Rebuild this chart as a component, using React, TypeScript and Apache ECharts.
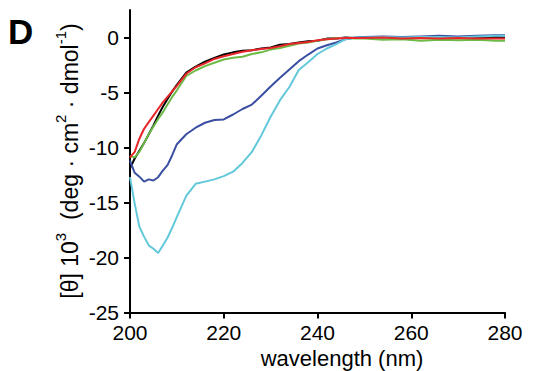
import React, { useEffect, useRef } from "react";
import * as echarts from "echarts";

const wavelengths = [200, 201, 202, 203, 204, 205, 206, 207, 208, 209, 210, 212, 214, 216, 218, 220, 222, 224, 226, 228, 230, 232, 234, 236, 238, 240, 242, 244, 246, 248, 250, 254, 258, 262, 266, 270, 274, 278, 280];

const blackSeries = [-11.9, -11.0, -10.3, -9.6, -8.8, -8.0, -7.1, -6.3, -5.6, -4.9, -4.3, -3.2, -2.65, -2.2, -1.85, -1.55, -1.35, -1.2, -1.15, -1.0, -0.9, -0.65, -0.6, -0.45, -0.35, -0.3, -0.1, -0.1, 0.0, -0.05, 0.0, 0.05, -0.05, 0.0, 0.05, 0.0, 0.0, 0.05, 0.0];
const redSeries = [-10.9, -10.4, -9.2, -8.3, -7.7, -7.1, -6.5, -5.9, -5.4, -4.9, -4.4, -3.3, -2.7, -2.35, -1.95, -1.7, -1.5, -1.3, -1.15, -1.05, -0.95, -0.8, -0.6, -0.5, -0.4, -0.25, -0.15, -0.1, -0.05, -0.05, -0.05, 0.0, -0.1, -0.05, -0.1, -0.05, -0.1, -0.1, -0.1];
const greenSeries = [-10.8, -10.9, -10.4, -9.6, -8.8, -8.1, -7.4, -6.8, -6.1, -5.4, -4.8, -3.5, -3.0, -2.6, -2.3, -2.0, -1.85, -1.75, -1.5, -1.35, -1.1, -0.95, -0.75, -0.55, -0.45, -0.3, -0.15, -0.05, -0.05, -0.1, -0.1, -0.2, -0.15, -0.3, -0.2, -0.25, -0.2, -0.3, -0.3];
const blueSeries = [-11.2, -12.3, -12.65, -13.1, -12.9, -13.0, -12.7, -12.1, -11.6, -10.7, -9.7, -8.8, -8.2, -7.75, -7.5, -7.45, -7.0, -6.5, -6.1, -5.3, -4.45, -3.65, -2.9, -2.15, -1.55, -1.0, -0.7, -0.45, -0.15, 0.0, 0.05, 0.1, 0.05, 0.1, 0.15, 0.1, 0.15, 0.2, 0.2];
const cyanSeries = [-12.7, -15.1, -17.2, -18.1, -18.9, -19.2, -19.6, -18.9, -18.2, -17.3, -16.3, -14.4, -13.3, -13.1, -12.9, -12.6, -12.2, -11.4, -10.4, -8.9, -7.2, -5.7, -4.5, -2.95, -2.25, -1.5, -1.0, -0.6, -0.15, 0.0, 0.0, 0.05, 0.0, 0.05, 0.05, 0.0, 0.1, 0.15, 0.15];

const yTicks = [-25, -20, -15, -10, -5, 0];
const xTicks = [200, 220, 240, 260, 280];

const seriesDefs = [
  { name: "black", color: "#000000", values: blackSeries },
  { name: "red", color: "#e8262a", values: redSeries },
  { name: "green", color: "#6cbb47", values: greenSeries },
  { name: "blue", color: "#3a4fa2", values: blueSeries },
  { name: "cyan", color: "#62c8da", values: cyanSeries },
];

const FONT = "Liberation Sans, Arial, sans-serif";

export default function App() {
  const ref = useRef<HTMLDivElement>(null);
  useEffect(() => {
    if (!ref.current) return;
    const chart = echarts.init(ref.current, null, { renderer: "svg" });
    chart.setOption({
      animation: false,
      backgroundColor: "#ffffff",
      grid: { left: 130, right: 30, top: 10, bottom: 58.5, containLabel: false },
      xAxis: {
        type: "value",
        min: 200,
        max: 280,
        interval: 20,
        axisLine: { show: true, onZero: false, lineStyle: { color: "#000", width: 2 } },
        axisTick: { show: true, length: 6, lineStyle: { color: "#000", width: 2 }, customValues: xTicks },
        axisLabel: { color: "#000", fontSize: 21, fontFamily: FONT, margin: 9, customValues: xTicks },
        splitLine: { show: false },
      },
      yAxis: {
        type: "value",
        min: -25,
        max: 2.5,
        axisLine: { show: true, onZero: false, lineStyle: { color: "#000", width: 2 } },
        axisTick: { show: true, length: 6, lineStyle: { color: "#000", width: 2 }, customValues: yTicks },
        axisLabel: { color: "#000", fontSize: 21, fontFamily: FONT, margin: 11, customValues: yTicks },
        splitLine: { show: false },
      },
      series: seriesDefs.map((s) => ({
        name: s.name,
        type: "line",
        data: wavelengths.map((w, i) => [w, s.values[i]]),
        showSymbol: false,
        symbol: "none",
        lineStyle: { color: s.color, width: 2 },
        itemStyle: { color: s.color },
        z: s.name === "red" ? 3 : 2,
      })),
      graphic: [
        {
          type: "text",
          left: 8,
          top: 14,
          style: { text: "D", fontSize: 35, fontWeight: "bold", fontFamily: FONT, fill: "#000" },
        },
        {
          type: "text",
          x: 342,
          y: 358,
          style: {
            text: "wavelength (nm)",
            fontSize: 22,
            fontFamily: FONT,
            fill: "#000",
            align: "center",
            verticalAlign: "middle",
          },
        },
        {
          type: "text",
          x: 67,
          y: 161,
          rotation: Math.PI / 2,
          style: {
            text: "{a|[θ] 10}{s|3}{a|  (deg · cm}{s|2}{a| · dmol}{s|-1}{a|)}",
            fill: "#000",
            align: "center",
            verticalAlign: "middle",
            rich: {
              a: { fontSize: 23, fontFamily: FONT, fill: "#000", lineHeight: 29, verticalAlign: "bottom" },
              s: { fontSize: 15, fontFamily: FONT, fill: "#000", verticalAlign: "top" },
            },
          },
        },
      ],
    });
    return () => chart.dispose();
  }, []);
  return (
    <div style={{ position: "fixed", left: 0, top: 0, width: 535, height: 371, background: "#fff" }}>
      <div ref={ref} style={{ width: 535, height: 371 }} />
    </div>
  );
}
